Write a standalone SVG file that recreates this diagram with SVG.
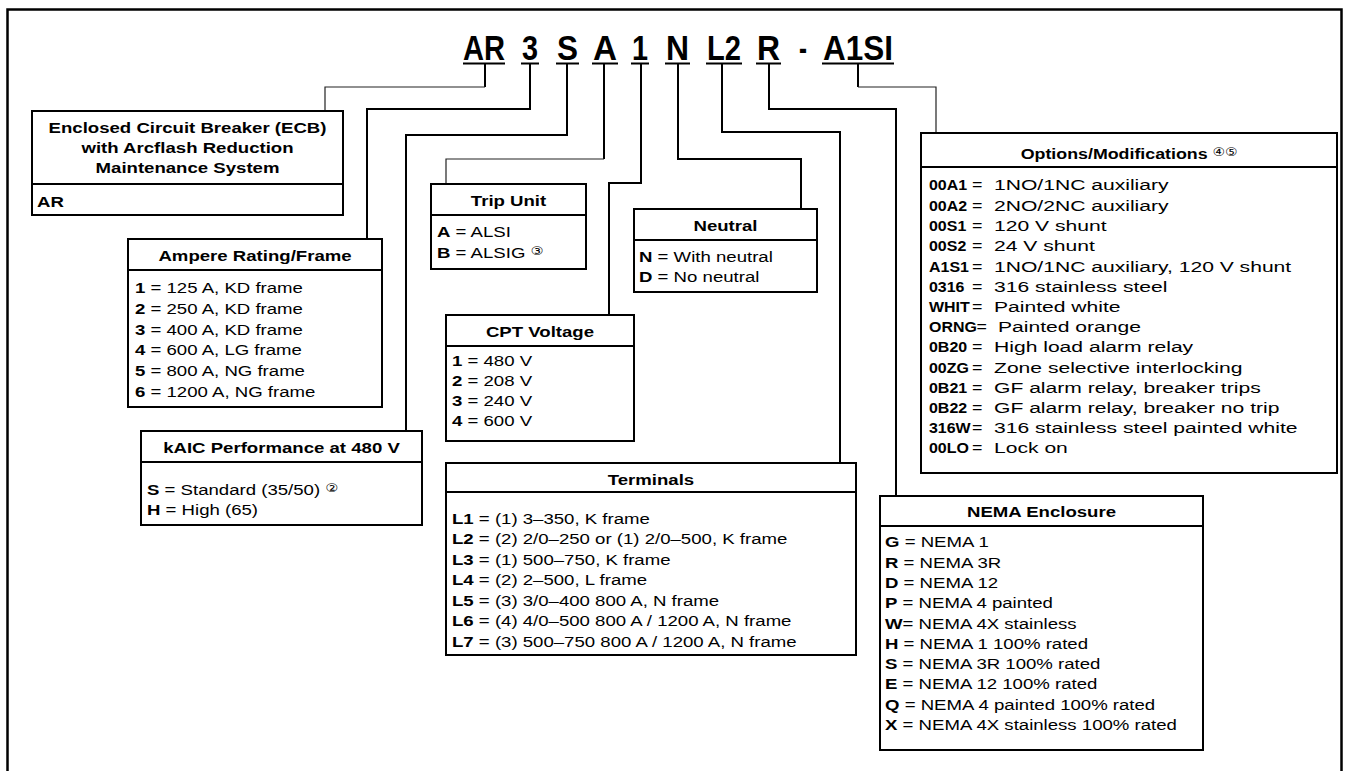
<svg xmlns="http://www.w3.org/2000/svg" width="1348" height="771" viewBox="0 0 1348 771">
<style>
.box{fill:#fff;stroke:#000;stroke-width:2}
.dv{stroke:#000;stroke-width:2}
.c{fill:none;stroke:#000;stroke-width:2}
.ct{fill:none;stroke:#222;stroke-width:1.2}
.ttl{font-family:"Liberation Sans",Arial,sans-serif;font-weight:bold;font-size:15.5px;text-anchor:middle}
.tx{font-family:"Liberation Sans",Arial,sans-serif;font-size:15.5px}
.b{font-weight:bold}
.code{font-family:"Liberation Sans",Arial,sans-serif;font-weight:bold;font-size:35px}
.ci{font-family:"DejaVu Sans","Noto Sans CJK JP",sans-serif;font-size:12px;font-weight:normal}
</style>
<rect x="7.5" y="9.5" width="1334" height="800" fill="none" stroke="#000" stroke-width="2.5"/>

<g id="code">
<text class="code" x="463" y="60" textLength="42" lengthAdjust="spacingAndGlyphs">AR</text>
<text class="code" x="522" y="60" textLength="16" lengthAdjust="spacingAndGlyphs">3</text>
<text class="code" x="557" y="60" textLength="21" lengthAdjust="spacingAndGlyphs">S</text>
<text class="code" x="593" y="60" textLength="24" lengthAdjust="spacingAndGlyphs">A</text>
<text class="code" x="632" y="60" textLength="16" lengthAdjust="spacingAndGlyphs">1</text>
<text class="code" x="666" y="60" textLength="23" lengthAdjust="spacingAndGlyphs">N</text>
<text class="code" x="707" y="60" textLength="34" lengthAdjust="spacingAndGlyphs">L2</text>
<text class="code" x="757" y="60" textLength="23" lengthAdjust="spacingAndGlyphs">R</text>
<text class="code" x="799" y="60" textLength="8" lengthAdjust="spacingAndGlyphs">-</text>
<text class="code" x="823" y="60" textLength="70" lengthAdjust="spacingAndGlyphs">A1SI</text>
<g stroke="#000" stroke-width="2">
<line x1="463" y1="63.5" x2="505" y2="63.5"/>
<line x1="521" y1="63.5" x2="539" y2="63.5"/>
<line x1="556" y1="63.5" x2="579" y2="63.5"/>
<line x1="592" y1="63.5" x2="618" y2="63.5"/>
<line x1="631" y1="63.5" x2="649" y2="63.5"/>
<line x1="665" y1="63.5" x2="690" y2="63.5"/>
<line x1="706" y1="63.5" x2="742" y2="63.5"/>
<line x1="756" y1="63.5" x2="781" y2="63.5"/>
<line x1="822" y1="63.5" x2="894" y2="63.5"/>
</g>
</g>

<g id="connectors">
<polyline class="c" points="485,64 485,87"/>
<polyline class="ct" points="485,87 325,87 325,111"/>
<polyline class="c" points="530,64 530,109 367,109 367,239"/>
<polyline class="c" points="567,64 567,135 406,135 406,431"/>
<polyline class="c" points="604,64 604,159"/>
<polyline class="ct" points="604,159 446,159 446,184"/>
<polyline class="c" points="641,64 641,183 609,183 609,315"/>
<polyline class="c" points="678,64 678,159 801,159 801,209"/>
<polyline class="c" points="722,64 722,132 840,132 840,463"/>
<polyline class="c" points="769,64 769,109 896,109 896,496"/>
<polyline class="c" points="858,64 858,87"/>
<polyline class="ct" points="858,87 936,87 936,133"/>
</g>

<g id="ecb">
<rect class="box" x="32" y="111" width="311" height="104"/>
<line class="dv" x1="32" y1="184" x2="343" y2="184"/>
<text class="ttl" transform="translate(187.5 133) scale(1.2 1)">Enclosed Circuit Breaker (ECB)</text>
<text class="ttl" transform="translate(187.5 153) scale(1.2 1)">with Arcflash Reduction</text>
<text class="ttl" transform="translate(187.5 173) scale(1.2 1)">Maintenance System</text>
<text class="tx b" transform="translate(37 207) scale(1.2 1)">AR</text>
</g>

<g id="ampere">
<rect class="box" x="128" y="239" width="254" height="168"/>
<line class="dv" x1="128" y1="270" x2="382" y2="270"/>
<text class="ttl" transform="translate(255 261) scale(1.2 1)">Ampere Rating/Frame</text>
<g class="tx" transform="translate(135 0) scale(1.2 1)">
<text y="293"><tspan class="b">1</tspan> = 125 A, KD frame</text>
<text y="314"><tspan class="b">2</tspan> = 250 A, KD frame</text>
<text y="335"><tspan class="b">3</tspan> = 400 A, KD frame</text>
<text y="355"><tspan class="b">4</tspan> = 600 A, LG frame</text>
<text y="376"><tspan class="b">5</tspan> = 800 A, NG frame</text>
<text y="397"><tspan class="b">6</tspan> = 1200 A, NG frame</text>
</g>
</g>

<g id="kaic">
<rect class="box" x="141" y="431" width="281" height="94"/>
<line class="dv" x1="141" y1="462" x2="422" y2="462"/>
<text class="ttl" transform="translate(281.5 453) scale(1.2 1)">kAIC Performance at 480 V</text>
<g class="tx" transform="translate(147 0) scale(1.2 1)">
<text y="495"><tspan class="b">S</tspan> = Standard (35/50) <tspan class="ci" dy="-3">②</tspan></text>
<text y="515"><tspan class="b">H</tspan> = High (65)</text>
</g>
</g>

<g id="trip">
<rect class="box" x="431" y="184" width="155" height="85"/>
<line class="dv" x1="431" y1="215" x2="586" y2="215"/>
<text class="ttl" transform="translate(508.5 206) scale(1.2 1)">Trip Unit</text>
<g class="tx" transform="translate(437 0) scale(1.2 1)">
<text y="237"><tspan class="b">A</tspan> = ALSI</text>
<text y="258"><tspan class="b">B</tspan> = ALSIG <tspan class="ci" dy="-3">③</tspan></text>
</g>
</g>

<g id="neutral">
<rect class="box" x="634" y="209" width="183" height="83"/>
<line class="dv" x1="634" y1="240" x2="817" y2="240"/>
<text class="ttl" transform="translate(725.5 231) scale(1.2 1)">Neutral</text>
<g class="tx" transform="translate(639 0) scale(1.2 1)">
<text y="262"><tspan class="b">N</tspan> = With neutral</text>
<text y="282"><tspan class="b">D</tspan> = No neutral</text>
</g>
</g>

<g id="cpt">
<rect class="box" x="446" y="315" width="188" height="126"/>
<line class="dv" x1="446" y1="346" x2="634" y2="346"/>
<text class="ttl" transform="translate(540 337) scale(1.2 1)">CPT Voltage</text>
<g class="tx" transform="translate(452 0) scale(1.2 1)">
<text y="366"><tspan class="b">1</tspan> = 480 V</text>
<text y="386"><tspan class="b">2</tspan> = 208 V</text>
<text y="406"><tspan class="b">3</tspan> = 240 V</text>
<text y="426"><tspan class="b">4</tspan> = 600 V</text>
</g>
</g>

<g id="terminals">
<rect class="box" x="446" y="463" width="410" height="192"/>
<line class="dv" x1="446" y1="492" x2="856" y2="492"/>
<text class="ttl" transform="translate(651 485) scale(1.2 1)">Terminals</text>
<g class="tx" transform="translate(452 0) scale(1.2 1)">
<text y="524"><tspan class="b">L1</tspan> = (1) 3–350, K frame</text>
<text y="544.5"><tspan class="b">L2</tspan> = (2) 2/0–250 or (1) 2/0–500, K frame</text>
<text y="565"><tspan class="b">L3</tspan> = (1) 500–750, K frame</text>
<text y="585.5"><tspan class="b">L4</tspan> = (2) 2–500, L frame</text>
<text y="606"><tspan class="b">L5</tspan> = (3) 3/0–400 800 A, N frame</text>
<text y="626.5"><tspan class="b">L6</tspan> = (4) 4/0–500 800 A / 1200 A, N frame</text>
<text y="647"><tspan class="b">L7</tspan> = (3) 500–750 800 A / 1200 A, N frame</text>
</g>
</g>

<g id="options">
<rect class="box" x="921" y="133" width="416" height="340"/>
<line class="dv" x1="921" y1="167" x2="1337" y2="167"/>
<text class="ttl" transform="translate(1129 159) scale(1.15 1)">Options/Modifications <tspan class="ci" dy="-3">④⑤</tspan></text>
<g class="tx b" transform="translate(929 0) scale(1.03 1)">
<text y="190">00A1</text>
<text y="211">00A2</text>
<text y="231">00S1</text>
<text y="251">00S2</text>
<text y="272">A1S1</text>
<text y="292">0316</text>
<text y="312">WHIT</text>
<text y="332">ORNG</text>
<text y="352">0B20</text>
<text y="373">00ZG</text>
<text y="393">0B21</text>
<text y="413">0B22</text>
<text y="433">316W</text>
<text y="453">00LO</text>
</g>
<g class="tx" transform="translate(972 0) scale(1.15 1)">
<text y="190">=</text>
<text y="211">=</text>
<text y="231">=</text>
<text y="251">=</text>
<text y="272">=</text>
<text y="292">=</text>
<text y="312">=</text>
<text x="4" y="332">=</text>
<text y="352">=</text>
<text y="373">=</text>
<text y="393">=</text>
<text y="413">=</text>
<text y="433">=</text>
<text y="453">=</text>
</g>
<text class="tx" transform="translate(998 332) scale(1.36 1)">Painted orange</text>
<g class="tx" transform="translate(994 0) scale(1.36 1)">
<text y="190">1NO/1NC auxiliary</text>
<text y="211">2NO/2NC auxiliary</text>
<text y="231">120 V shunt</text>
<text y="251">24 V shunt</text>
<text y="272">1NO/1NC auxiliary, 120 V shunt</text>
<text y="292">316 stainless steel</text>
<text y="312">Painted white</text>
<text y="352">High load alarm relay</text>
<text y="373">Zone selective interlocking</text>
<text y="393">GF alarm relay, breaker trips</text>
<text y="413">GF alarm relay, breaker no trip</text>
<text y="433">316 stainless steel painted white</text>
<text y="453">Lock on</text>
</g>
</g>

<g id="nema">
<rect class="box" x="880" y="496" width="323" height="254"/>
<line class="dv" x1="880" y1="526" x2="1203" y2="526"/>
<text class="ttl" transform="translate(1041.5 517) scale(1.2 1)">NEMA Enclosure</text>
<g class="tx" transform="translate(885 0) scale(1.2 1)">
<text y="547"><tspan class="b">G</tspan> = NEMA 1</text>
<text y="568"><tspan class="b">R</tspan> = NEMA 3R</text>
<text y="588"><tspan class="b">D</tspan> = NEMA 12</text>
<text y="608"><tspan class="b">P</tspan> = NEMA 4 painted</text>
<text y="629"><tspan class="b">W</tspan>= NEMA 4X stainless</text>
<text y="649"><tspan class="b">H</tspan> = NEMA 1 100% rated</text>
<text y="669"><tspan class="b">S</tspan> = NEMA 3R 100% rated</text>
<text y="689"><tspan class="b">E</tspan> = NEMA 12 100% rated</text>
<text y="710"><tspan class="b">Q</tspan> = NEMA 4 painted 100% rated</text>
<text y="730"><tspan class="b">X</tspan> = NEMA 4X stainless 100% rated</text>
</g>
</g>
</svg>
